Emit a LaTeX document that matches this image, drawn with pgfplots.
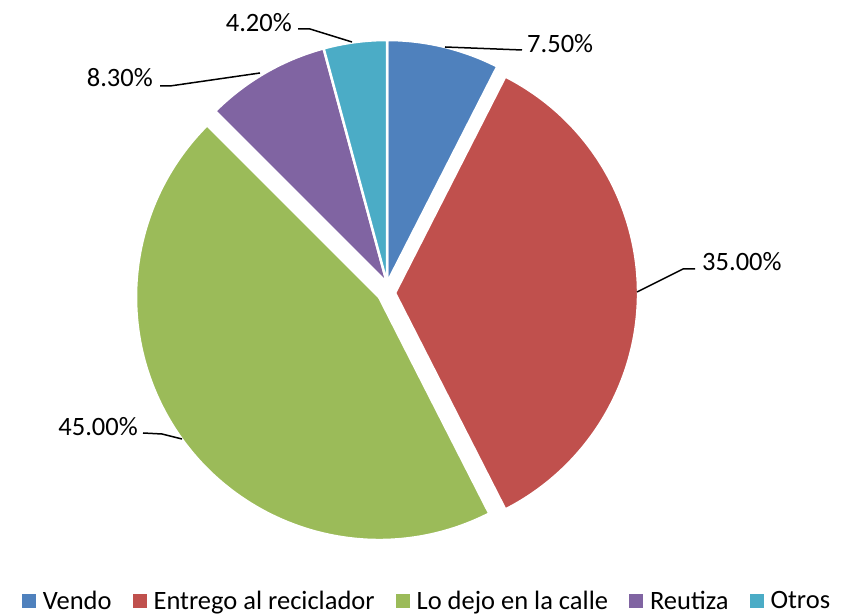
\documentclass[border=0pt]{standalone}
\usepackage{fontspec}
\setmainfont{Carlito}
\usepackage{pgfplots}
\usepackage{pgfplotstable}
\pgfplotsset{compat=1.18}

\definecolor{vendo}{HTML}{4F81BD}
\definecolor{entrego}{HTML}{C0504D}
\definecolor{calle}{HTML}{9BBB59}
\definecolor{reutiza}{HTML}{8064A2}
\definecolor{otros}{HTML}{4BACC6}

% value in percent, explode offset (dx,dy) in bp, colour
\pgfplotstableread{
name value dx dy col
Vendo 7.5 0 0 vendo
Entrego 35.0 8 -10 entrego
Calle 45.0 -8 -14 calle
Reutiza 8.3 0 0 reutiza
Otros 4.2 0 0 otros
}\piedata

\newcommand\lbl{\fontsize{26.5bp}{32bp}\selectfont}

\begin{document}
\begin{tikzpicture}
\begin{axis}[
  width=846bp, height=615bp, scale only axis,
  xmin=0, xmax=846, ymin=0, ymax=615,
  hide axis, clip=false,
  legend columns=5,
  legend style={draw=none, fill=none, at={(axis cs:426,14)}, anchor=center,
    font=\lbl, inner sep=0pt,
    nodes={inner sep=0pt},
    /tikz/every even column/.append style={column sep=21bp}},
  legend image code/.code={\fill[#1, draw=none] (0bp,-7bp) rectangle (14bp,7bp);
    \path[draw=none, fill=none] (0bp,0bp) -- (21bp,0bp);},
]
\path (axis cs:0,0) rectangle (axis cs:846,615);

% slices, clockwise from 12 o'clock
\def\startang{90}
\pgfplotsforeachungrouped \i in {0,...,4}{%
  \pgfplotstablegetelem{\i}{value}\of\piedata \let\val\pgfplotsretval
  \pgfplotstablegetelem{\i}{dx}\of\piedata \let\ddx\pgfplotsretval
  \pgfplotstablegetelem{\i}{dy}\of\piedata \let\ddy\pgfplotsretval
  \pgfplotstablegetelem{\i}{col}\of\piedata \let\col\pgfplotsretval
  \pgfmathsetmacro\endang{\startang-3.6*\val}
  \pgfmathsetmacro\cx{387+\ddx}
  \pgfmathsetmacro\cy{332+\ddy}
  \edef\cmd{\noexpand\fill[\col, draw=white, line width=2.5bp]
    (axis cs:\cx,\cy) -- ++(\startang:243bp)
    arc[start angle=\startang, end angle=\endang, radius=243bp] -- cycle;}
  \cmd
  \let\startang\endang
}

% leader lines
\addplot[forget plot, black, line width=1.5bp] coordinates {(445,568) (522,565)};
\addplot[forget plot, black, line width=1.5bp] coordinates {(637,323) (683,346) (695,346)};
\addplot[forget plot, black, line width=1.5bp] coordinates {(182,176) (162,181) (143,182)};
\addplot[forget plot, black, line width=1.5bp] coordinates {(260,542) (170,529) (160,529)};
\addplot[forget plot, black, line width=1.5bp] coordinates {(352,573) (310,586) (298,586)};

\node[anchor=west, inner sep=0pt, font=\lbl] at (axis cs:527,571.5) {7.50\%};
\node[anchor=west, inner sep=0pt, font=\lbl] at (axis cs:702,353.5) {35.00\%};
\node[anchor=east, inner sep=0pt, font=\lbl] at (axis cs:138,188.5) {45.00\%};
\node[anchor=east, inner sep=0pt, font=\lbl] at (axis cs:153,537.5) {8.30\%};
\node[anchor=east, inner sep=0pt, font=\lbl] at (axis cs:292,592.5) {4.20\%};

\addlegendimage{fill=vendo}
\addlegendimage{fill=entrego}
\addlegendimage{fill=calle}
\addlegendimage{fill=reutiza}
\addlegendimage{fill=otros}
\legend{Vendo, Entrego al reciclador, Lo dejo en la calle, Reutiza, Otros}
\end{axis}
\end{tikzpicture}
\end{document}
